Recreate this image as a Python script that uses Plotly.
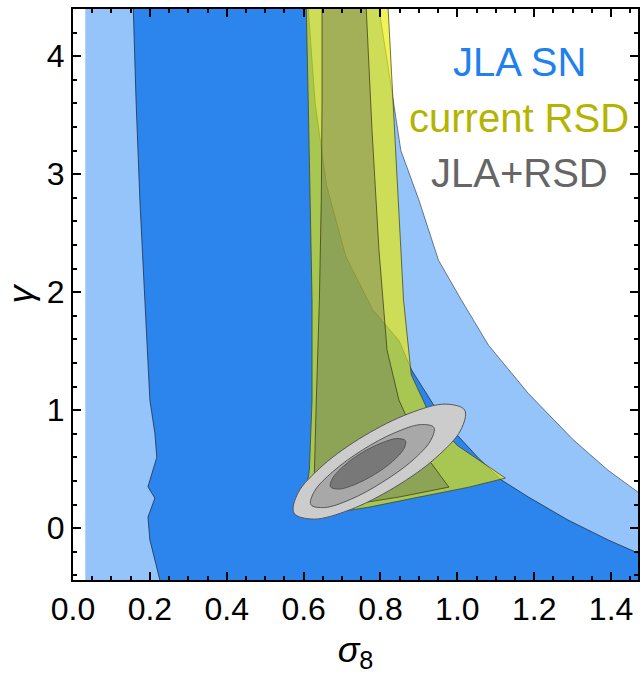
import plotly.graph_objects as go

# ---------------- data (sigma_8, gamma) ----------------
# JLA SN 2-sigma region (left edge of data grid + curved right boundary)
jla2_x = [0.032, 0.032, 0.790, 0.796, 0.817, 0.837, 0.853, 0.900, 0.951, 1.011, 1.081, 1.185, 1.301, 1.392, 1.472, 1.573, 1.600]
jla2_y = [-0.60, 4.60, 4.60, 4.40, 3.97, 3.54, 3.20, 2.78, 2.27, 1.93, 1.55, 1.14, 0.75, 0.49, 0.30, 0.11, -0.60]

# JLA SN 1-sigma region
jla1_x = [0.239, 0.226, 0.200, 0.195, 0.213, 0.195, 0.218, 0.213, 0.200, 0.187, 0.174, 0.164, 0.156, 0.155,
          0.610, 0.612, 0.630, 0.660, 0.710, 0.780, 0.848, 0.881, 0.939, 0.995, 1.055, 1.115, 1.185, 1.288,
          1.392, 1.472, 1.573, 1.600]
jla1_y = [-0.61, -0.44, -0.10, 0.093, 0.254, 0.35, 0.60, 0.805, 1.085, 1.93, 2.78, 3.63, 4.40, 4.60,
          4.60, 4.40, 3.60, 2.90, 2.30, 1.85, 1.59, 1.34, 1.04, 0.805, 0.593, 0.407, 0.263, 0.068,
          -0.10, -0.21, -0.36, -0.61]

# current RSD 2-sigma region
rsd2_x = [0.607, 0.607, 0.612, 0.617, 0.622, 0.622, 0.615, 0.605, 0.620, 0.641, 0.771, 0.900, 1.030, 1.125,
          1.000, 0.930, 0.880, 0.860, 0.846, 0.833, 0.820, 0.820]
rsd2_y = [4.60, 4.40, 3.63, 2.78, 1.93, 1.085, 0.49, 0.28, 0.14, 0.11, 0.178, 0.263, 0.347, 0.424,
          0.70, 0.95, 1.30, 1.93, 2.78, 3.63, 4.40, 4.60]

# current RSD 1-sigma region
rsd1_x = [0.648, 0.648, 0.646, 0.641, 0.633, 0.628, 0.684, 0.848, 0.978, 0.907, 0.848, 0.817, 0.796, 0.778, 0.763, 0.763]
rsd1_y = [4.60, 3.63, 2.78, 1.93, 1.085, 0.466, 0.178, 0.263, 0.347, 0.661, 1.085, 1.51, 2.36, 3.37, 4.40, 4.60]

# JLA+RSD contours (3, 2, 1 sigma)
comb3_x = [0.837, 0.721, 0.625, 0.575, 0.585, 0.651, 0.757, 0.874, 0.969, 1.019, 1.009, 0.943, 0.837]
comb3_y = [0.346, 0.156, 0.076, 0.127, 0.295, 0.534, 0.781, 0.971, 1.051, 1.000, 0.832, 0.593, 0.346]
comb2_x = [0.805, 0.722, 0.654, 0.619, 0.628, 0.677, 0.753, 0.837, 0.904, 0.939, 0.930, 0.882, 0.805]
comb2_y = [0.389, 0.243, 0.174, 0.198, 0.311, 0.481, 0.662, 0.808, 0.877, 0.853, 0.740, 0.570, 0.389]
comb1_x = [0.784, 0.733, 0.692, 0.670, 0.675, 0.704, 0.750, 0.802, 0.843, 0.865, 0.860, 0.831, 0.784]
comb1_y = [0.454, 0.369, 0.331, 0.350, 0.421, 0.525, 0.636, 0.720, 0.759, 0.740, 0.668, 0.564, 0.454]

labels = ["JLA SN", "current RSD", "JLA+RSD"]
label_colors = ["#2080ee", "#b4b400", "#666666"]

# ---------------- figure ----------------
fig = go.Figure()
EDGE = "rgba(30,40,60,0.75)"


def region(xs, ys, fill, lc=EDGE, lw=1, shape="linear"):
    fig.add_trace(go.Scatter(x=xs, y=ys, mode="lines", fill="toself", fillcolor=fill,
                             line=dict(color=lc, width=lw, shape=shape),
                             hoverinfo="skip", showlegend=False))


region(jla2_x, jla2_y, "rgb(148,196,250)", lw=0)
fig.add_trace(go.Scatter(x=jla2_x[2:-1], y=jla2_y[2:-1], mode="lines",
                         line=dict(color="rgba(60,70,90,0.7)", width=1),
                         hoverinfo="skip", showlegend=False))
region(jla1_x, jla1_y, "rgb(44,133,236)")
region(rsd2_x, rsd2_y, "rgba(235,235,0,0.65)", lc="rgba(60,60,20,0.7)")
region(rsd1_x, rsd1_y, "rgba(100,110,90,0.4)", lc="rgba(50,50,20,0.7)")
region(comb3_x, comb3_y, "rgb(204,204,204)", lc="#555555", shape="spline")
region(comb2_x, comb2_y, "rgb(168,168,168)", lc="#555555", shape="spline")
region(comb1_x, comb1_y, "rgb(120,120,120)", lc="#555555", shape="spline")

label_y = [3.95, 3.48, 3.01]
for t, c, yy in zip(labels, label_colors, label_y):
    fig.add_annotation(x=1.161, y=yy, xref="x", yref="y", text=t, showarrow=False,
                       xanchor="center", yanchor="middle",
                       font=dict(family="Liberation Sans, Arial", size=40, color=c))

FONT = dict(family="Liberation Sans, Arial", size=32, color="black")
TFONT = dict(family="Liberation Sans, Arial", size=36, color="black")
axis_common = dict(showline=True, linewidth=2, linecolor="black", mirror="ticks",
                   ticks="inside", ticklen=8, tickwidth=2, tickcolor="black",
                   showgrid=False, zeroline=False, tickfont=FONT)

fig.update_xaxes(range=[0, 1.47], tick0=0, dtick=0.2, tickformat=".1f",
                 minor=dict(ticks="inside", ticklen=4, tickwidth=2, tickcolor="black", dtick=0.05, tick0=0),
                 title=dict(text="<i>σ</i><sub>8</sub>", font=TFONT, standoff=10),
                 **axis_common)
fig.update_yaxes(range=[-0.44, 4.40], tick0=0, dtick=1,
                 minor=dict(ticks="inside", ticklen=4, tickwidth=2, tickcolor="black", dtick=0.2, tick0=0),
                 title=dict(text="<i>γ</i>", font=TFONT, standoff=10),
                 **axis_common)

fig.update_layout(width=643, height=676, margin=dict(l=73, r=3, t=9, b=96),
                  paper_bgcolor="white", plot_bgcolor="white", showlegend=False)

fig.write_html("out.html")
